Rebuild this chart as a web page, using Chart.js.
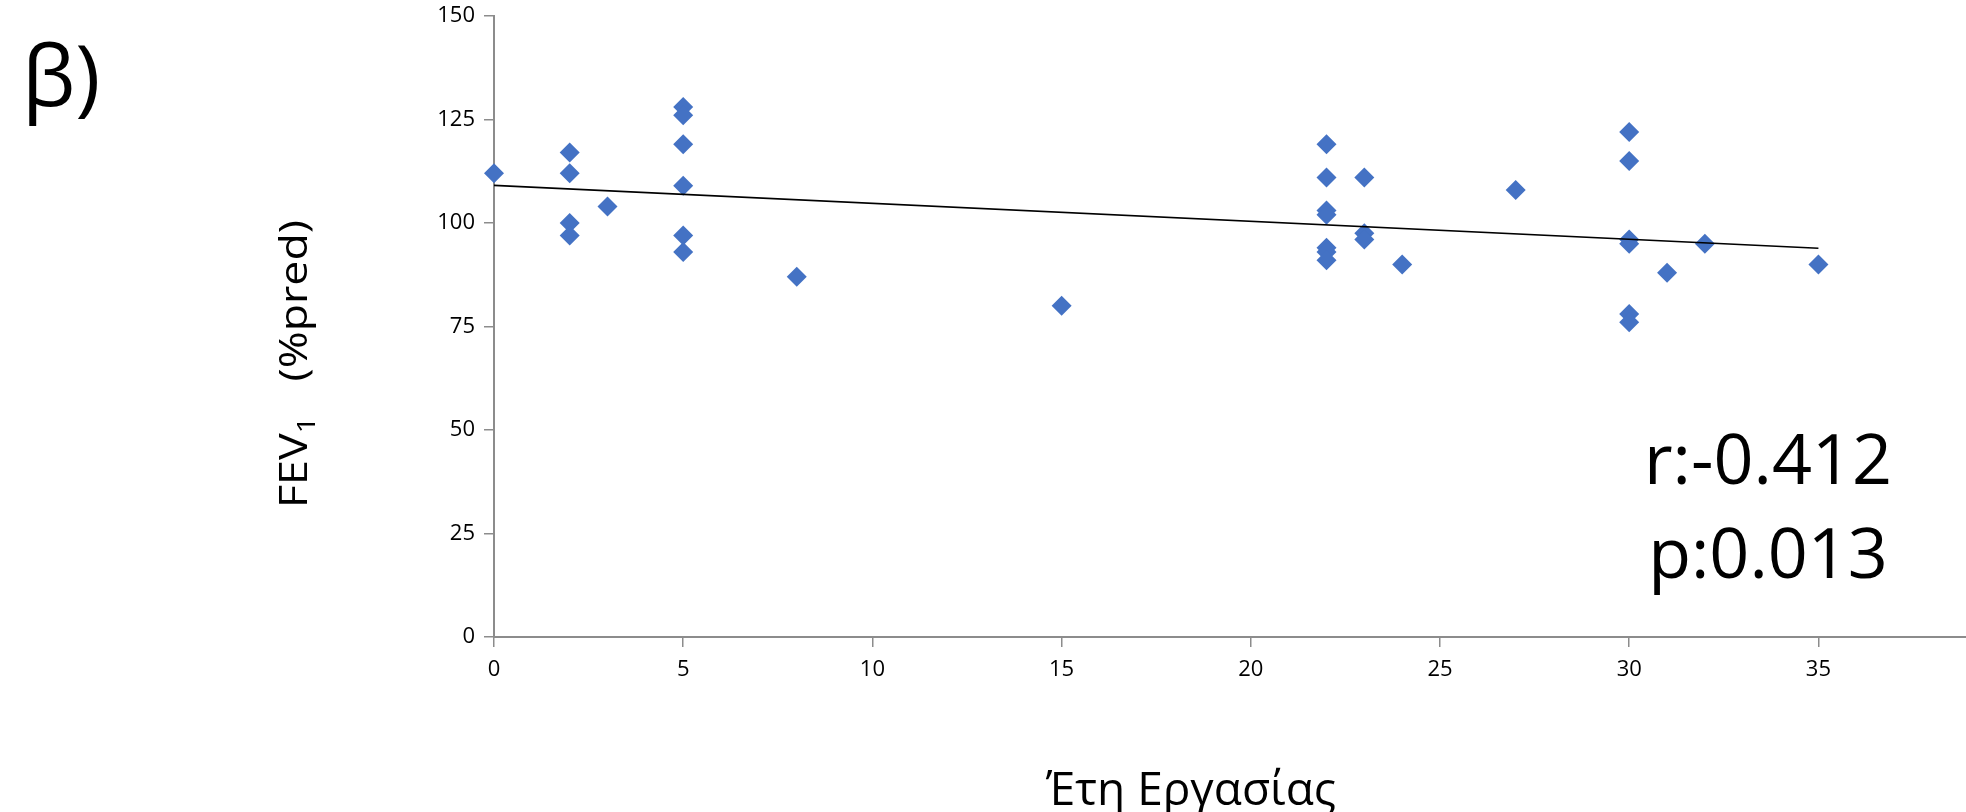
<!DOCTYPE html>
<html>
<head>
<meta charset="utf-8">
<script src="https://cdn.jsdelivr.net/npm/chart.js@4.4.1/dist/chart.umd.min.js"></script>
<style>
  html, body { margin: 0; padding: 0; background: #fff; }
  #wrap { position: relative; width: 1966px; height: 812px; }
</style>
</head>
<body>
<div id="wrap"><canvas id="fevChart"></canvas></div>
<script>
// years of work vs FEV1 (% predicted)
const workYears = [0, 2, 2, 2, 2, 3, 5, 5, 5, 5, 5, 5, 8, 15,
  22, 22, 22, 22, 22, 22, 22, 23, 23, 23, 24, 27,
  30, 30, 30, 30, 30, 30, 31, 32, 35];
const fev1Pred = [112, 117, 112, 100, 97, 104, 128, 126, 119, 109, 97, 93, 87, 80,
  119, 111, 103, 102, 94, 93, 91, 111, 97.5, 96, 90, 108,
  122, 115, 96, 95, 78, 76, 88, 95, 90];

// linear trendline end points
const trendYears = [0, 35];
const trendFev = [109.1, 93.9];

const xTicks = [0, 5, 10, 15, 20, 25, 30, 35];
const yTicks = [0, 25, 50, 75, 100, 125, 150];

const statLines = ["r:-0.412", "p:0.013"];
const panelLabel = "β)";
const xTitle = "Έτη Εργασίας";

const FONT = "'Open Sans', sans-serif";
const AXIS_GREY = "#8c8c8c";

const textPlugin = {
  id: "extraText",
  afterDraw(chart) {
    const c = chart.ctx;
    c.save();
    c.fillStyle = "#000";
    c.textBaseline = "alphabetic";

    c.font = "85px " + FONT;
    c.textAlign = "left";
    c.fillText(panelLabel, 22, 106);

    c.font = "70px " + FONT;
    c.textAlign = "center";
    c.fillText(statLines[0], 1768, 484);
    c.fillText(statLines[1], 1768, 578);

    c.font = "46px " + FONT;
    c.fillText(xTitle, 1191, 805);

    // y title, rotated, with subscript 1, stretched to the original length
    c.translate(307, 508);
    c.rotate(-Math.PI / 2);
    c.textAlign = "left";
    c.font = "39px " + FONT;
    const wMain = c.measureText("FEV").width;
    const wRest = c.measureText("   (%pred)").width;
    c.font = "26px " + FONT;
    const wSub = c.measureText("1").width;
    c.scale(288 / (wMain + wSub + wRest), 1);
    c.font = "39px " + FONT;
    c.fillText("FEV", 0, 0);
    c.fillText("   (%pred)", wMain + wSub, 0);
    c.font = "26px " + FONT;
    c.fillText("1", wMain, 8);
    c.restore();
  }
};

const tickFont = { family: FONT, size: 22 };

new Chart(document.getElementById("fevChart"), {
  type: "scatter",
  data: {
    datasets: [
      {
        type: "line",
        label: "trend",
        data: trendYears.map((x, i) => ({ x: x, y: trendFev[i] })),
        borderColor: "#000",
        borderWidth: 1.6,
        pointRadius: 0,
        fill: false,
        clip: false,
        order: 0
      },
      {
        label: "FEV1",
        data: workYears.map((x, i) => ({ x: x, y: fev1Pred[i] })),
        pointStyle: "rectRot",
        pointRadius: 10,
        backgroundColor: "#4472C4",
        borderColor: "#4472C4",
        borderWidth: 0,
        clip: false,
        order: 1
      }
    ]
  },
  options: {
    responsive: true,
    maintainAspectRatio: false,
    animation: false,
    events: [],
    layout: { autoPadding: false, padding: { top: 16, right: 0, bottom: 0, left: 0 } },
    plugins: { legend: { display: false }, tooltip: { enabled: false } },
    scales: {
      x: {
        type: "linear",
        min: 0,
        max: 38.9,
        afterBuildTicks: s => { s.ticks = xTicks.map(v => ({ value: v })); },
        afterFit: s => { s.height = 175; s.paddingLeft = 0; s.paddingRight = 0; },
        grid: { drawOnChartArea: false, drawTicks: true, tickLength: 10, color: AXIS_GREY, lineWidth: 1.5 },
        border: { color: AXIS_GREY, width: 2 },
        ticks: { font: tickFont, color: "#000", padding: 10, maxRotation: 0 }
      },
      y: {
        type: "linear",
        min: 0,
        max: 150,
        afterBuildTicks: s => { s.ticks = yTicks.map(v => ({ value: v })); },
        afterFit: s => { s.width = 494; s.paddingTop = 0; s.paddingBottom = 0; },
        grid: { drawOnChartArea: false, drawTicks: true, tickLength: 10, color: AXIS_GREY, lineWidth: 1.5 },
        border: { color: AXIS_GREY, width: 2 },
        ticks: { font: tickFont, color: "#000", padding: 9 }
      }
    }
  },
  plugins: [textPlugin]
});
</script>
</body>
</html>
